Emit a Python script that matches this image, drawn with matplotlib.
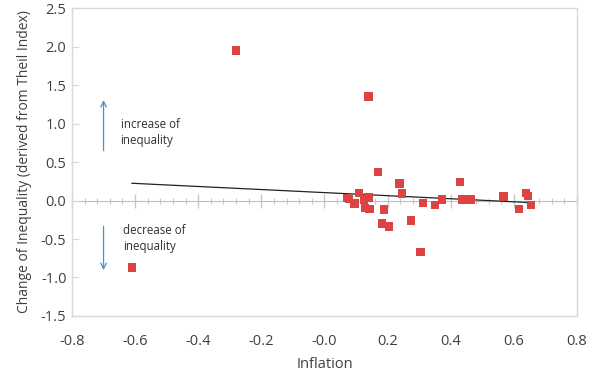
import numpy as np
import matplotlib.pyplot as plt

plt.rcParams['font.family'] = ['Open Sans', 'DejaVu Sans']

inflation = np.array([-0.61, -0.28, 0.139, 0.169, 0.072, 0.078, 0.096, 0.109, 0.125,
                      0.140, 0.128, 0.143, 0.188, 0.182, 0.204, 0.237, 0.246, 0.274,
                      0.305, 0.312, 0.350, 0.372, 0.429, 0.438, 0.464, 0.568, 0.616,
                      0.639, 0.645, 0.654])
theil_change = np.array([-0.87, 1.95, 1.35, 0.37, 0.035, 0.02, -0.04, 0.10, 0.01,
                         0.04, -0.095, -0.11, -0.12, -0.30, -0.34, 0.22, 0.09, -0.26,
                         -0.67, -0.03, -0.06, 0.01, 0.24, 0.01, 0.01, 0.05, -0.11,
                         0.10, 0.06, -0.06])

fig = plt.figure(figsize=(5.92, 3.76), dpi=100)
ax = fig.add_axes([0.1216, 0.1596, 0.853, 0.819])

ax.scatter(inflation, theil_change, marker='s', s=38, color='#DE4343',
           edgecolors='none', zorder=3)

# linear trend line
k, b = np.polyfit(inflation, theil_change, 1)
xs = np.array([inflation.min(), inflation.max()])
ax.plot(xs, k * xs + b, color='#222222', lw=0.9, zorder=2)

ax.set_xlim(-0.8, 0.8)
ax.set_ylim(-1.5, 2.5)
ax.set_xticks(np.arange(-0.8, 0.81, 0.2))
ax.set_yticks(np.arange(-1.5, 2.51, 0.5))
ax.set_xticklabels([f'{v:.1f}' for v in np.arange(-0.8, 0.81, 0.2)])
ax.set_yticklabels([f'{v:.1f}' for v in np.arange(-1.5, 2.51, 0.5)])
ax.tick_params(axis='x', length=0, labelsize=10.5, colors='#404040', pad=13)
ax.tick_params(axis='y', direction='in', length=5, color='#D9D9D9',
               labelsize=10.5, labelcolor='#404040', pad=4)
for sp in ax.spines.values():
    sp.set_color('#D9D9D9')
    sp.set_linewidth(1)

# axis line through zero with major and minor ticks
zero = ax.secondary_xaxis(1.5 / 4.0)
zero.set_xticks(np.arange(-0.8, 0.81, 0.2))
zero.set_xticks(np.arange(-0.8, 0.81, 0.04), minor=True)
zero.tick_params(which='major', direction='inout', length=10, color='#C8C8C8',
                 width=1, labelbottom=False)
zero.tick_params(which='minor', direction='inout', length=5, color='#C8C8C8',
                 width=0.8)
zero.set_xticklabels([])
zero.spines['bottom'].set_color('#BFBFBF')
zero.spines['top'].set_visible(False)

ax.set_xlabel('Inflation', fontsize=10.5, color='#404040', labelpad=6)
ax.set_ylabel('Change of Inequality (derived from Theil Index)', fontsize=10,
              color='#404040', labelpad=6)

ax.annotate('', xy=(-0.70, 1.34), xytext=(-0.70, 0.61),
            arrowprops=dict(arrowstyle='->', color='#4A90C8', lw=0.9))
ax.annotate('', xy=(-0.70, -0.94), xytext=(-0.70, -0.30),
            arrowprops=dict(arrowstyle='->', color='#4A90C8', lw=0.9))
ax.text(-0.646, 1.07, 'increase of\ninequality', fontsize=8.3, color='#303030',
        va='top', ha='left', linespacing=1.3)
ax.text(-0.637, -0.30, 'decrease of\ninequality', fontsize=8.3, color='#303030',
        va='top', ha='left', linespacing=1.3)

fig.savefig('out.png', dpi=100)
